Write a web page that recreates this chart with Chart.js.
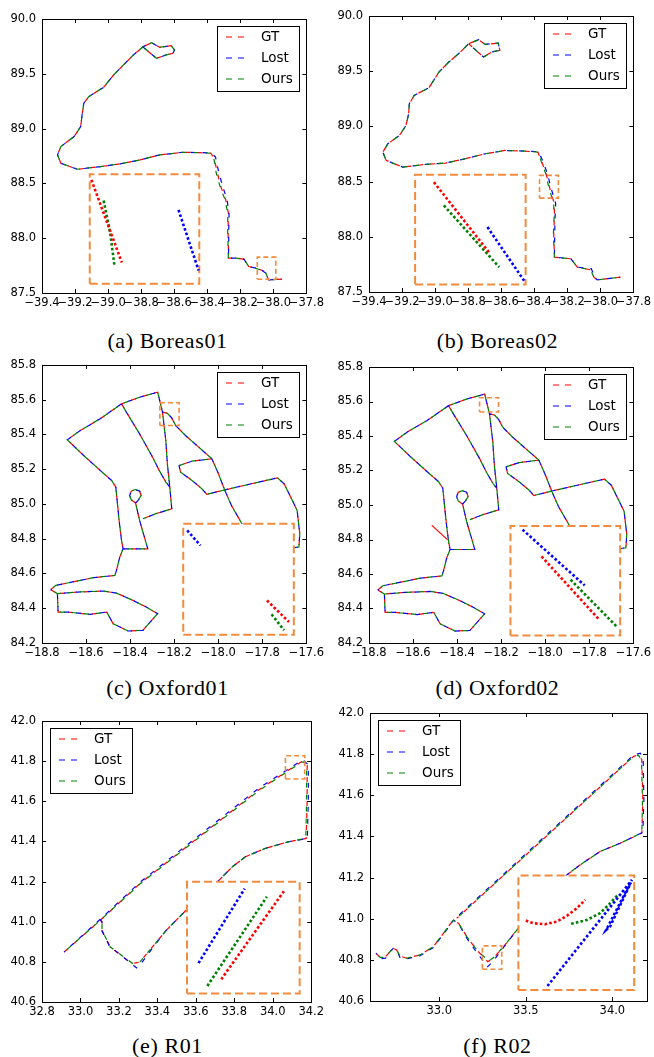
<!DOCTYPE html>
<html>
<head>
<meta charset="utf-8">
<script src="https://cdn.jsdelivr.net/npm/chart.js@4.4.1/dist/chart.umd.min.js"></script>
<style>
  body { margin: 0; background: #fff; }
  #page { position: relative; width: 654px; height: 1057px; overflow: hidden; background: #fff; }
  #page canvas { position: absolute; }
  .cap { position: absolute; width: 327px; text-align: center; font-family: "Liberation Serif", "Times New Roman", serif;
         font-size: 22px; line-height: 22px; letter-spacing: 0.6px; color: #000; white-space: nowrap; }
</style>
</head>
<body>
<div id="page"></div>
<script>
// ---- data ----
const seriesNames = ['GT', 'Lost', 'Ours'];
const captions = ['(a) Boreas01', '(b) Boreas02', '(c) Oxford01', '(d) Oxford02', '(e) R01', '(f) R02'];

// (a) Boreas01
const xTicksA = [-39.4, -39.2, -39.0, -38.8, -38.6, -38.4, -38.2, -38.0, -37.8];
const yTicksA = [87.5, 88.0, 88.5, 89.0, 89.5, 90.0];
const gtA = [[-37.949,87.626],[-38.029,87.620],[-38.049,87.696],[-38.089,87.717],[-38.149,87.742],[-38.178,87.809],[-38.228,87.818],[-38.272,87.818],[-38.272,87.924],[-38.274,88.046],[-38.272,88.228],[-38.288,88.350],[-38.318,88.471],[-38.338,88.593],[-38.358,88.729],[-38.378,88.775],[-38.448,88.781],[-38.548,88.784],[-38.687,88.760],[-38.807,88.714],[-38.927,88.678],[-39.047,88.653],[-39.186,88.629],[-39.286,88.684],[-39.306,88.760],[-39.286,88.836],[-39.206,88.927],[-39.166,89.018],[-39.156,89.140],[-39.147,89.231],[-39.117,89.292],[-39.027,89.377],[-38.967,89.489],[-38.907,89.581],[-38.847,89.672],[-38.787,89.748],[-38.737,89.784],[-38.687,89.742],[-38.618,89.757],[-38.598,89.717],[-38.608,89.687],[-38.648,89.672],[-38.707,89.641],[-38.787,89.742]];
const lostA = [[-37.949,87.626],[-38.029,87.620],[-38.044,87.680],[-38.080,87.718],[-38.149,87.742],[-38.178,87.809],[-38.228,87.818],[-38.272,87.818],[-38.270,87.924],[-38.270,88.046],[-38.268,88.228],[-38.280,88.350],[-38.306,88.470],[-38.330,88.600],[-38.350,88.740],[-38.375,88.778],[-38.448,88.781],[-38.548,88.784],[-38.687,88.760],[-38.807,88.714],[-38.927,88.678],[-39.047,88.653],[-39.186,88.629],[-39.286,88.684],[-39.306,88.760],[-39.286,88.836],[-39.206,88.927],[-39.166,89.018],[-39.156,89.140],[-39.147,89.231],[-39.117,89.292],[-39.027,89.377],[-38.967,89.489],[-38.907,89.581],[-38.847,89.672],[-38.787,89.748],[-38.737,89.784],[-38.687,89.742],[-38.618,89.757],[-38.598,89.717],[-38.608,89.687],[-38.648,89.672],[-38.707,89.641],[-38.787,89.742]];
const oursA = [[-37.949,87.626],[-38.029,87.620],[-38.049,87.696],[-38.089,87.717],[-38.149,87.742],[-38.178,87.809],[-38.228,87.818],[-38.272,87.818],[-38.274,87.924],[-38.276,88.046],[-38.276,88.228],[-38.292,88.350],[-38.322,88.471],[-38.345,88.590],[-38.360,88.729],[-38.378,88.775],[-38.448,88.781],[-38.548,88.784],[-38.687,88.760],[-38.807,88.714],[-38.927,88.678],[-39.047,88.653],[-39.186,88.629],[-39.286,88.684],[-39.306,88.760],[-39.286,88.836],[-39.206,88.927],[-39.166,89.018],[-39.156,89.140],[-39.147,89.231],[-39.117,89.292],[-39.027,89.377],[-38.967,89.489],[-38.907,89.581],[-38.847,89.672],[-38.787,89.748],[-38.737,89.784],[-38.687,89.742],[-38.618,89.757],[-38.598,89.717],[-38.608,89.687],[-38.648,89.672],[-38.707,89.641],[-38.787,89.742]];
const insetBoxA = [-39.111, -38.448, 87.584, 88.584];   // xmin, xmax, ymin, ymax
const zoomBoxA = [-38.097, -37.985, 87.626, 87.827];
const insetGtA = [[-39.101,88.532],[-38.917,87.778]];
const insetLostA = [[-38.574,88.258],[-38.452,87.705]];
const insetOursA = [[-39.027,88.343],[-38.987,88.046],[-38.961,87.742]];

// (b) Boreas02
const xTicksB = [-39.4, -39.2, -39.0, -38.8, -38.6, -38.4, -38.2, -38.0, -37.8];
const yTicksB = [87.5, 88.0, 88.5, 89.0, 89.5, 90.0];
const gtB = [[-37.879,87.634],[-38.019,87.610],[-38.039,87.634],[-38.059,87.701],[-38.139,87.725],[-38.178,87.801],[-38.238,87.810],[-38.278,87.816],[-38.282,88.027],[-38.278,88.178],[-38.278,88.299],[-38.308,88.450],[-38.328,88.571],[-38.358,88.692],[-38.378,88.767],[-38.458,88.776],[-38.578,88.782],[-38.697,88.752],[-38.817,88.707],[-38.937,88.668],[-39.057,88.656],[-39.196,88.631],[-39.296,88.692],[-39.316,88.767],[-39.286,88.843],[-39.216,88.918],[-39.176,89.009],[-39.160,89.115],[-39.156,89.205],[-39.127,89.281],[-39.037,89.350],[-38.977,89.492],[-38.917,89.583],[-38.857,89.659],[-38.797,89.749],[-38.737,89.785],[-38.697,89.743],[-38.618,89.755],[-38.608,89.689],[-38.657,89.674],[-38.707,89.628],[-38.797,89.749]];
const lostB = [[-37.879,87.634],[-38.019,87.610],[-38.035,87.640],[-38.055,87.712],[-38.139,87.725],[-38.178,87.801],[-38.238,87.810],[-38.278,87.816],[-38.276,88.027],[-38.274,88.178],[-38.270,88.299],[-38.300,88.450],[-38.320,88.571],[-38.352,88.700],[-38.375,88.772],[-38.458,88.776],[-38.578,88.782],[-38.697,88.752],[-38.817,88.707],[-38.937,88.668],[-39.057,88.656],[-39.196,88.631],[-39.296,88.692],[-39.316,88.767],[-39.286,88.843],[-39.216,88.918],[-39.176,89.009],[-39.160,89.115],[-39.156,89.205],[-39.127,89.281],[-39.037,89.350],[-38.977,89.492],[-38.917,89.583],[-38.857,89.659],[-38.797,89.749],[-38.737,89.785],[-38.697,89.743],[-38.618,89.755],[-38.608,89.689],[-38.657,89.674],[-38.707,89.628],[-38.797,89.749]];
const oursB = [[-37.879,87.634],[-38.019,87.610],[-38.039,87.634],[-38.059,87.701],[-38.139,87.725],[-38.178,87.801],[-38.238,87.810],[-38.278,87.816],[-38.284,88.027],[-38.280,88.178],[-38.282,88.299],[-38.312,88.450],[-38.330,88.571],[-38.360,88.692],[-38.378,88.767],[-38.458,88.776],[-38.578,88.782],[-38.697,88.752],[-38.817,88.707],[-38.937,88.668],[-39.057,88.656],[-39.196,88.631],[-39.296,88.692],[-39.316,88.767],[-39.286,88.843],[-39.216,88.918],[-39.176,89.009],[-39.160,89.115],[-39.156,89.205],[-39.127,89.281],[-39.037,89.350],[-38.977,89.492],[-38.917,89.583],[-38.857,89.659],[-38.797,89.749],[-38.737,89.785],[-38.697,89.743],[-38.618,89.755],[-38.608,89.689],[-38.657,89.674],[-38.707,89.628],[-38.797,89.749]];
const insetBoxB = [-39.121, -38.452, 87.568, 88.562];
const zoomBoxB = [-38.368, -38.254, 88.350, 88.556];
const insetGtB = [[-39.007,88.495],[-38.667,87.846]];
const insetLostB = [[-38.683,88.088],[-38.458,87.595]];
const insetOursB = [[-38.947,88.284],[-38.612,87.725]];

// (c) Oxford01 -- road network, null = break between drives
const xTicksC = [-18.8, -18.6, -18.4, -18.2, -18.0, -17.8, -17.6];
const yTicksC = [84.2, 84.4, 84.6, 84.8, 85.0, 85.2, 85.4, 85.6, 85.8];
const gtC = [
  [-18.760,84.507],[-18.737,84.532],[-18.685,84.545],[-18.566,84.576],[-18.469,84.589],[-18.462,84.618],[-18.447,84.694],[-18.432,84.742],[-18.439,84.790],[-18.450,84.905],[-18.459,85.020],[-18.465,85.097],[-18.484,85.135],[-18.536,85.193],[-18.611,85.279],[-18.685,85.369],[-18.626,85.423],[-18.536,85.490],[-18.439,85.576],[-18.357,85.614],[-18.275,85.643],[-18.253,85.528],[-18.231,85.522],[-18.211,85.495],[-18.193,85.451],[-18.149,85.394],[-18.089,85.327],[-18.029,85.260],[-17.999,85.173],[-17.970,85.078],[-17.940,84.991],[-17.888,84.876],
  null,
  [-18.253,85.528],[-18.238,85.365],[-18.231,85.231],[-18.220,85.097],[-18.211,84.972],[-18.283,84.944],[-18.342,84.915],
  null,
  [-18.439,85.576],[-18.417,85.528],[-18.357,85.403],[-18.298,85.269],[-18.268,85.193],[-18.238,85.126],[-18.220,85.097],
  null,
  [-18.375,85.005],[-18.395,85.024],[-18.402,85.049],[-18.395,85.074],[-18.377,85.083],[-18.357,85.074],[-18.350,85.049],[-18.362,85.024],[-18.375,85.005],[-18.357,84.905],[-18.335,84.809],[-18.320,84.742],[-18.432,84.742],
  null,
  [-18.029,85.260],[-18.119,85.246],[-18.178,85.221],[-18.171,85.183],[-18.119,85.135],[-18.074,85.087],[-18.052,85.055],[-17.970,85.081],[-17.850,85.116],[-17.731,85.150],[-17.701,85.116],[-17.671,85.039],[-17.642,84.963],[-17.630,84.829],[-17.634,84.752],[-17.657,84.748],
  null,
  [-18.760,84.507],[-18.730,84.484],[-18.727,84.378],[-18.685,84.378],[-18.581,84.365],[-18.506,84.378],[-18.477,84.311],[-18.409,84.269],[-18.342,84.273],[-18.275,84.369],[-18.327,84.407],[-18.387,84.445],[-18.462,84.487],[-18.521,84.499],[-18.640,84.493],[-18.730,84.484]
];
const lostC = gtC, oursC = gtC;
const insetBoxC = [-18.159, -17.657, 84.248, 84.886];
const zoomBoxC = [-18.265, -18.178, 85.451, 85.582];
const insetGtC = [[-17.779,84.445],[-17.679,84.321]];
const insetLostC = [[-18.141,84.848],[-18.081,84.761]];
const insetOursC = [[-17.758,84.365],[-17.701,84.273]];

// (d) Oxford02 -- same roads, plus a short stray GT stroke
const xTicksD = [-18.8, -18.6, -18.4, -18.2, -18.0, -17.8, -17.6];
const yTicksD = [84.2, 84.4, 84.6, 84.8, 85.0, 85.2, 85.4, 85.6, 85.8];
const strayGtD = [[-18.515,84.882],[-18.444,84.799]];
const gtD = gtC, lostD = gtC, oursD = gtC;
const insetBoxD = [-18.158, -17.660, 84.244, 84.878];
const zoomBoxD = [-18.298, -18.212, 85.539, 85.622];
const insetGtD = [[-18.017,84.702],[-17.755,84.335]];
const insetLostD = [[-18.103,84.857],[-17.821,84.534]];
const insetOursD = [[-17.885,84.567],[-17.671,84.289]];

// (e) R01
const xTicksE = [32.8, 33.0, 33.2, 33.4, 33.6, 33.8, 34.0, 34.2];
const yTicksE = [40.6, 40.8, 41.0, 41.2, 41.4, 41.6, 41.8, 42.0];
const gtE = [[32.915,40.849],[33.103,41.007],[33.309,41.190],[33.617,41.423],[33.926,41.656],[34.149,41.797],[34.157,41.800],[34.179,41.781],[34.179,41.606],[34.174,41.415],[34.080,41.398],[33.960,41.365],[33.857,41.323],[33.789,41.273],[33.703,41.190],[33.617,41.107],[33.549,41.057],[33.446,40.957],[33.360,40.858],[33.309,40.799],[33.266,40.791],[33.155,40.874],[33.112,40.957],[33.112,40.999],[33.103,41.007]];
const lostE = [[32.915,40.849],[33.103,41.012],[33.309,41.196],[33.617,41.430],[33.926,41.664],[34.152,41.805],[34.165,41.800],[34.185,41.781],[34.185,41.606],[34.180,41.415],[34.080,41.398],[33.960,41.365],[33.857,41.323],[33.789,41.273],[33.703,41.190],[33.617,41.107],[33.549,41.057],[33.446,40.957],[33.360,40.850],[33.310,40.785],[33.292,40.770],[33.150,40.880],[33.110,40.957],[33.112,40.999],[33.103,41.012]];
const oursE = [[32.915,40.849],[33.103,41.007],[33.309,41.188],[33.617,41.420],[33.926,41.652],[34.149,41.795],[34.160,41.795],[34.176,41.781],[34.176,41.606],[34.172,41.415],[34.080,41.398],[33.960,41.365],[33.857,41.323],[33.789,41.273],[33.703,41.190],[33.617,41.107],[33.549,41.057],[33.446,40.957],[33.360,40.858],[33.309,40.799],[33.270,40.793],[33.155,40.874],[33.112,40.957],[33.112,40.999],[33.103,41.007]];
const insetBoxE = [33.554, 34.140, 40.642, 41.199];
const zoomBoxE = [34.066, 34.166, 41.711, 41.827];
const insetGtE = [[33.732,40.713],[34.058,41.152]];
const insetLostE = [[33.614,40.794],[33.854,41.165]];
const insetOursE = [[33.660,40.680],[33.969,41.124]];

// (f) R02
const xTicksF = [33.0, 33.5, 34.0];
const xRangeF = [32.6, 34.2];
const yTicksF = [40.6, 40.8, 41.0, 41.2, 41.4, 41.6, 41.8, 42.0];
const gtF = [[32.635,40.832],[32.658,40.812],[32.687,40.812],[32.716,40.840],[32.735,40.856],[32.754,40.848],[32.773,40.819],[32.812,40.808],[32.889,40.824],[32.966,40.864],[33.024,40.929],[33.082,40.994],[33.111,40.978],[33.159,40.913],[33.217,40.848],[33.280,40.791],[33.313,40.808],[33.371,40.864],[33.448,40.945],[33.602,41.092],[33.737,41.213],[33.814,41.262],[33.929,41.327],[34.045,41.367],[34.170,41.416],[34.176,41.578],[34.170,41.773],[34.151,41.797],[34.122,41.789],[33.101,41.002]];
const lostF = [[32.635,40.832],[32.660,40.806],[32.690,40.808],[32.716,40.840],[32.735,40.856],[32.754,40.848],[32.773,40.812],[32.812,40.805],[32.889,40.820],[32.966,40.860],[33.024,40.925],[33.082,40.992],[33.111,40.978],[33.159,40.905],[33.217,40.835],[33.280,40.767],[33.313,40.795],[33.371,40.860],[33.448,40.945],[33.602,41.092],[33.737,41.213],[33.814,41.262],[33.929,41.327],[34.045,41.367],[34.176,41.420],[34.182,41.578],[34.178,41.775],[34.161,41.805],[34.122,41.795],[33.101,41.008]];
const oursF = [[32.635,40.832],[32.658,40.812],[32.687,40.812],[32.716,40.840],[32.735,40.856],[32.754,40.848],[32.773,40.819],[32.812,40.808],[32.889,40.824],[32.966,40.864],[33.024,40.929],[33.082,40.994],[33.111,40.978],[33.159,40.913],[33.217,40.848],[33.285,40.795],[33.313,40.810],[33.371,40.864],[33.448,40.945],[33.602,41.092],[33.737,41.213],[33.814,41.262],[33.929,41.327],[34.045,41.367],[34.170,41.418],[34.174,41.578],[34.168,41.770],[34.151,41.795],[34.122,41.789],[33.101,41.002]];
const insetBoxF = [33.457, 34.126, 40.653, 41.210];
const zoomBoxF = [33.249, 33.361, 40.754, 40.868];
const insetGtF = [[33.500,40.991],[33.544,40.978],[33.612,40.973],[33.679,40.986],[33.737,41.014],[33.795,41.051],[33.843,41.092]];
const insetLostF = [[33.625,40.673],[34.113,41.189],[33.964,40.945],[33.987,40.962],[34.107,41.176]];
const insetOursF = [[33.762,40.975],[33.852,40.994],[33.929,41.027],[33.987,41.075],[34.035,41.119]];

// ---- layout (page pixels) ----
const panels = [
  { gt: gtA, lost: lostA, ours: oursA, xt: xTicksA, yt: yTicksA, box: insetBoxA, zoom: zoomBoxA, iGt: insetGtA, iLost: insetLostA, iOurs: insetOursA,
    canvas: [0, 0, 327, 318], plot: [42, 19, 308, 293], legendSide: 'right' },
  { gt: gtB, lost: lostB, ours: oursB, xt: xTicksB, yt: yTicksB, box: insetBoxB, zoom: zoomBoxB, iGt: insetGtB, iLost: insetLostB, iOurs: insetOursB,
    canvas: [327, 0, 327, 318], plot: [369, 16, 637, 292], legendSide: 'right' },
  { gt: gtC, lost: lostC, ours: oursC, xt: xTicksC, yt: yTicksC, box: insetBoxC, zoom: zoomBoxC, iGt: insetGtC, iLost: insetLostC, iOurs: insetOursC,
    canvas: [0, 352, 327, 316], plot: [42, 364, 309, 643], legendSide: 'right' },
  { gt: gtD, lost: lostD, ours: oursD, xt: xTicksD, yt: yTicksD, box: insetBoxD, zoom: zoomBoxD, iGt: insetGtD, iLost: insetLostD, iOurs: insetOursD,
    canvas: [327, 352, 327, 316], plot: [369, 367, 635, 643], legendSide: 'right', stray: strayGtD },
  { gt: gtE, lost: lostE, ours: oursE, xt: xTicksE, yt: yTicksE, box: insetBoxE, zoom: zoomBoxE, iGt: insetGtE, iLost: insetLostE, iOurs: insetOursE,
    canvas: [0, 708, 327, 322], plot: [42, 721, 313, 1002], legendSide: 'left' },
  { gt: gtF, lost: lostF, ours: oursF, xt: xTicksF, yt: yTicksF, box: insetBoxF, zoom: zoomBoxF, iGt: insetGtF, iLost: insetLostF, iOurs: insetOursF,
    canvas: [327, 700, 327, 330], plot: [370, 713, 647, 1001], legendSide: 'left', xRange: xRangeF }
];
const captionPos = [[4, 330], [334, 330], [4, 677], [334, 677], [4, 1035], [334, 1035]];

const colors = { GT: '#ff0000', Lost: '#0000ff', Ours: '#008000' };
const orange = '#f28b3e';

const fmt = v => (v < 0 ? '\u2212' : '') + Math.abs(v).toFixed(1);
const pts = arr => arr.map(p => p ? { x: p[0], y: p[1] } : { x: null, y: null });
const rect = b => pts([[b[0], b[2]], [b[1], b[2]], [b[1], b[3]], [b[0], b[3]], [b[0], b[2]]]);

// frame with inward tick marks on all four sides (classic matplotlib look)
const frameTicks = {
  id: 'frameTicks',
  afterDatasetsDraw(chart) {
    const { ctx, chartArea: a, scales } = chart;
    ctx.save();
    ctx.strokeStyle = '#000';
    ctx.lineWidth = 1;
    ctx.beginPath();
    scales.x.ticks.forEach(t => {
      const px = Math.round(scales.x.getPixelForValue(t.value)) + 0.5;
      ctx.moveTo(px, a.bottom); ctx.lineTo(px, a.bottom - 4);
      ctx.moveTo(px, a.top); ctx.lineTo(px, a.top + 4);
    });
    scales.y.ticks.forEach(t => {
      const py = Math.round(scales.y.getPixelForValue(t.value)) + 0.5;
      ctx.moveTo(a.left, py); ctx.lineTo(a.left + 4, py);
      ctx.moveTo(a.right, py); ctx.lineTo(a.right - 4, py);
    });
    ctx.stroke();
    ctx.strokeRect(Math.round(a.left) + 0.5, Math.round(a.top) + 0.5, Math.round(a.right - a.left), Math.round(a.bottom - a.top));
    ctx.restore();
  }
};

// boxed legend inside the axes
const boxLegend = {
  id: 'boxLegend',
  afterDatasetsDraw(chart, args, opts) {
    const { ctx, chartArea: a } = chart;
    const items = chart.data.datasets.filter(d => d.label);
    const w = 82, h = 65;
    const x0 = Math.round(opts.side === 'left' ? a.left + 8 : a.right - 7 - w);
    const y0 = Math.round(a.top + 7);
    ctx.save();
    ctx.fillStyle = '#fff';
    ctx.fillRect(x0, y0, w, h);
    ctx.strokeStyle = '#000';
    ctx.lineWidth = 1;
    ctx.strokeRect(x0 + 0.5, y0 + 0.5, w, h);
    ctx.font = '13.5px "DejaVu Sans"';
    ctx.textBaseline = 'middle';
    items.forEach((d, i) => {
      const y = y0 + 11 + 21 * i;
      ctx.strokeStyle = d.borderColor;
      ctx.lineWidth = 1.2;
      ctx.setLineDash([6, 6]);
      ctx.beginPath(); ctx.moveTo(x0 + 9, y); ctx.lineTo(x0 + 27, y); ctx.stroke();
      ctx.setLineDash([]);
      ctx.fillStyle = '#000';
      ctx.fillText(d.label, x0 + 44, y);
    });
    ctx.restore();
  }
};

const page = document.getElementById('page');

panels.forEach((p, k) => {
  const [cx, cy, cw, ch] = p.canvas;
  const [pl, pt, pr, pb] = p.plot;
  const cv = document.createElement('canvas');
  cv.width = cw; cv.height = ch;
  cv.style.left = cx + 'px'; cv.style.top = cy + 'px';
  cv.style.width = cw + 'px'; cv.style.height = ch + 'px';
  page.appendChild(cv);

  const trail = (name, data, off, order) => ({
    label: name, data: pts(data), borderColor: colors[name], borderWidth: 1.2,
    borderDash: [5, 7], borderDashOffset: off, showLine: true, pointRadius: 0, order: order
  });
  const dots = (name, data) => ({
    label: '', data: pts(data), borderColor: colors[name], borderWidth: 2.6,
    borderDash: [2.6, 2.2], showLine: true, pointRadius: 0, order: 2
  });

  const datasets = [
    trail('GT', p.gt, 0, 9),
    trail('Lost', p.lost, 4, 8),
    trail('Ours', p.ours, 8, 7),
    { label: '', data: rect(p.box), borderColor: orange, borderWidth: 2, borderDash: [8, 4],
      backgroundColor: '#fff', fill: 'shape', showLine: true, pointRadius: 0, order: 3 },
    dots('GT', p.iGt),
    dots('Lost', p.iLost),
    dots('Ours', p.iOurs),
    { label: '', data: rect(p.zoom), borderColor: orange, borderWidth: 1.6, borderDash: [5, 3],
      showLine: true, pointRadius: 0, order: 1 }
  ];
  if (p.stray) {
    datasets.push({ label: '', data: pts(p.stray), borderColor: colors.GT, borderWidth: 1.2,
      showLine: true, pointRadius: 0, order: 6 });
  }

  const tickFont = { family: 'DejaVu Sans', size: 11.5 };
  const xr = p.xRange || [p.xt[0], p.xt[p.xt.length - 1]];

  new Chart(cv, {
    type: 'scatter',
    data: { datasets },
    options: {
      responsive: false,
      animation: false,
      devicePixelRatio: 1,
      layout: { autoPadding: false, padding: { left: 0, bottom: 0, top: pt - cy, right: cx + cw - pr } },
      plugins: { legend: { display: false }, tooltip: { enabled: false }, boxLegend: { side: p.legendSide } },
      scales: {
        x: {
          type: 'linear', min: xr[0], max: xr[1],
          afterBuildTicks: s => { s.ticks = p.xt.map(v => ({ value: v })); },
          afterFit: s => { s.height = cy + ch - pb; },
          grid: { display: false, drawTicks: false },
          border: { display: false },
          ticks: { color: '#000', font: tickFont, padding: 3, autoSkip: false, maxRotation: 0, minRotation: 0, callback: v => fmt(v) }
        },
        y: {
          type: 'linear', min: p.yt[0], max: p.yt[p.yt.length - 1],
          afterBuildTicks: s => { s.ticks = p.yt.map(v => ({ value: v })); },
          afterFit: s => { s.width = pl - cx; },
          grid: { display: false, drawTicks: false },
          border: { display: false },
          ticks: { color: '#000', font: tickFont, padding: 6, autoSkip: false, callback: v => fmt(v) }
        }
      }
    },
    plugins: [frameTicks, boxLegend]
  });

  const cap = document.createElement('div');
  cap.className = 'cap';
  cap.textContent = captions[k];
  cap.style.left = captionPos[k][0] + 'px';
  cap.style.top = captionPos[k][1] + 'px';
  page.appendChild(cap);
});
</script>
</body>
</html>
